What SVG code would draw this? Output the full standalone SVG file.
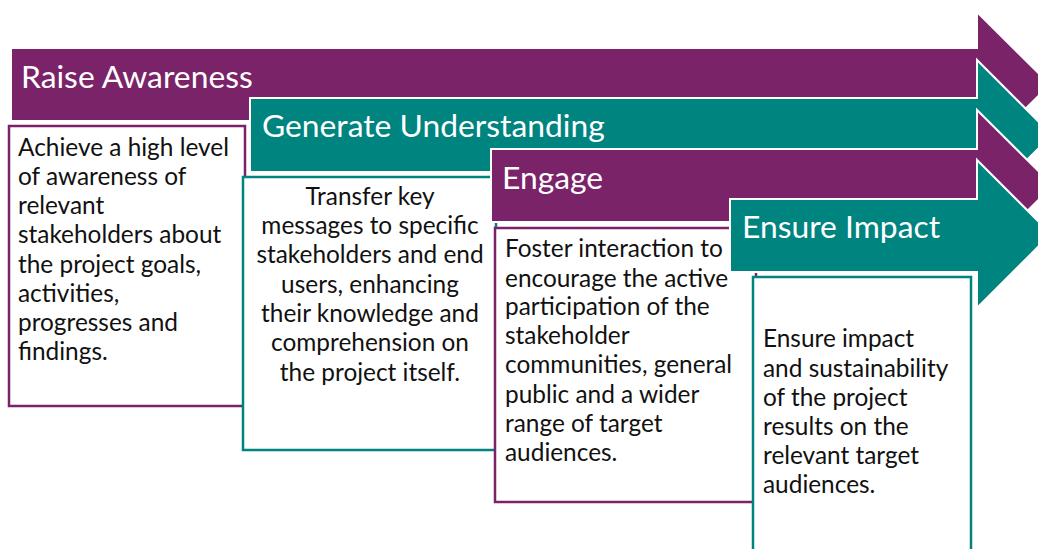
<svg xmlns="http://www.w3.org/2000/svg" width="1038" height="549" viewBox="0 0 1038 549">
<style>
.purple{fill:#7A2368;stroke:#ffffff;stroke-width:2}
.teal{fill:#008480;stroke:#ffffff;stroke-width:2}
.boxp{fill:#ffffff;stroke:#7A2368;stroke-width:2.5}
.boxt{fill:#ffffff;stroke:#008480;stroke-width:2.5}
.head{font-family:Lato,"Open Sans",sans-serif;font-size:31.8px;fill:#ffffff}
.body{font-family:Lato,"Open Sans",sans-serif;font-size:24.4px;fill:#111111}
.c{text-anchor:middle}
</style>
<rect width="1038" height="549" fill="#ffffff"/>
<g id="raise-awareness">
<polygon class="purple" points="11,48 977,48 977,12 1050,84.5 977,157 977,121 11,121"/>
<text class="head" x="21" y="88">Raise Awareness</text>
</g>
<g id="raise-awareness-box">
<rect class="boxp" x="9" y="126" width="236" height="280"/>
<text class="body" x="18" y="156">Achieve a high level</text>
<text class="body" x="18" y="185">of awareness of</text>
<text class="body" x="18" y="214">relevant</text>
<text class="body" x="18" y="243">stakeholders about</text>
<text class="body" x="18" y="273">the project goals,</text>
<text class="body" x="18" y="302">activities,</text>
<text class="body" x="18" y="331">progresses and</text>
<text class="body" x="18" y="360">findings.</text>
</g>
<g id="generate-understanding">
<polygon class="teal" points="250,98 977,98 977,60 1052,135 977,210 977,172 250,172"/>
<text class="head" x="262" y="137">Generate Understanding</text>
</g>
<g id="generate-understanding-box">
<rect class="boxt" x="243" y="177" width="253" height="273"/>
<text class="body c" x="370" y="205">Transfer key</text>
<text class="body c" x="370" y="234">messages to specific</text>
<text class="body c" x="370" y="263">stakeholders and end</text>
<text class="body c" x="370" y="293">users, enhancing</text>
<text class="body c" x="370" y="322">their knowledge and</text>
<text class="body c" x="370" y="351">comprehension on</text>
<text class="body c" x="370" y="381">the project itself.</text>
</g>
<g id="engage">
<polygon class="purple" points="491,149 977,149 977,110 1053,185.5 977,261 977,222 491,222"/>
<text class="head" x="502" y="189">Engage</text>
</g>
<g id="engage-box">
<rect class="boxp" x="495" y="228" width="261" height="274"/>
<text class="body" x="505" y="257">Foster interaction to</text>
<text class="body" x="505" y="287">encourage the active</text>
<text class="body" x="505" y="315">participation of the</text>
<text class="body" x="505" y="344">stakeholder</text>
<text class="body" x="505" y="373">communities, general</text>
<text class="body" x="505" y="403">public and a wider</text>
<text class="body" x="505" y="432">range of target</text>
<text class="body" x="505" y="461">audiences.</text>
</g>
<g id="ensure-impact">
<polygon class="teal" points="730,199 977,199 977,160 1051,234 977,308 977,272 730,272"/>
<text class="head" x="742" y="238">Ensure Impact</text>
</g>
<g id="ensure-impact-box">
<rect class="boxt" x="753" y="277" width="218" height="290"/>
<text class="body" x="763" y="347">Ensure impact</text>
<text class="body" x="763" y="377">and sustainability</text>
<text class="body" x="763" y="406">of the project</text>
<text class="body" x="763" y="435">results on the</text>
<text class="body" x="763" y="464">relevant target</text>
<text class="body" x="763" y="493">audiences.</text>
</g>
<g id="connectors"></g>
</svg>
